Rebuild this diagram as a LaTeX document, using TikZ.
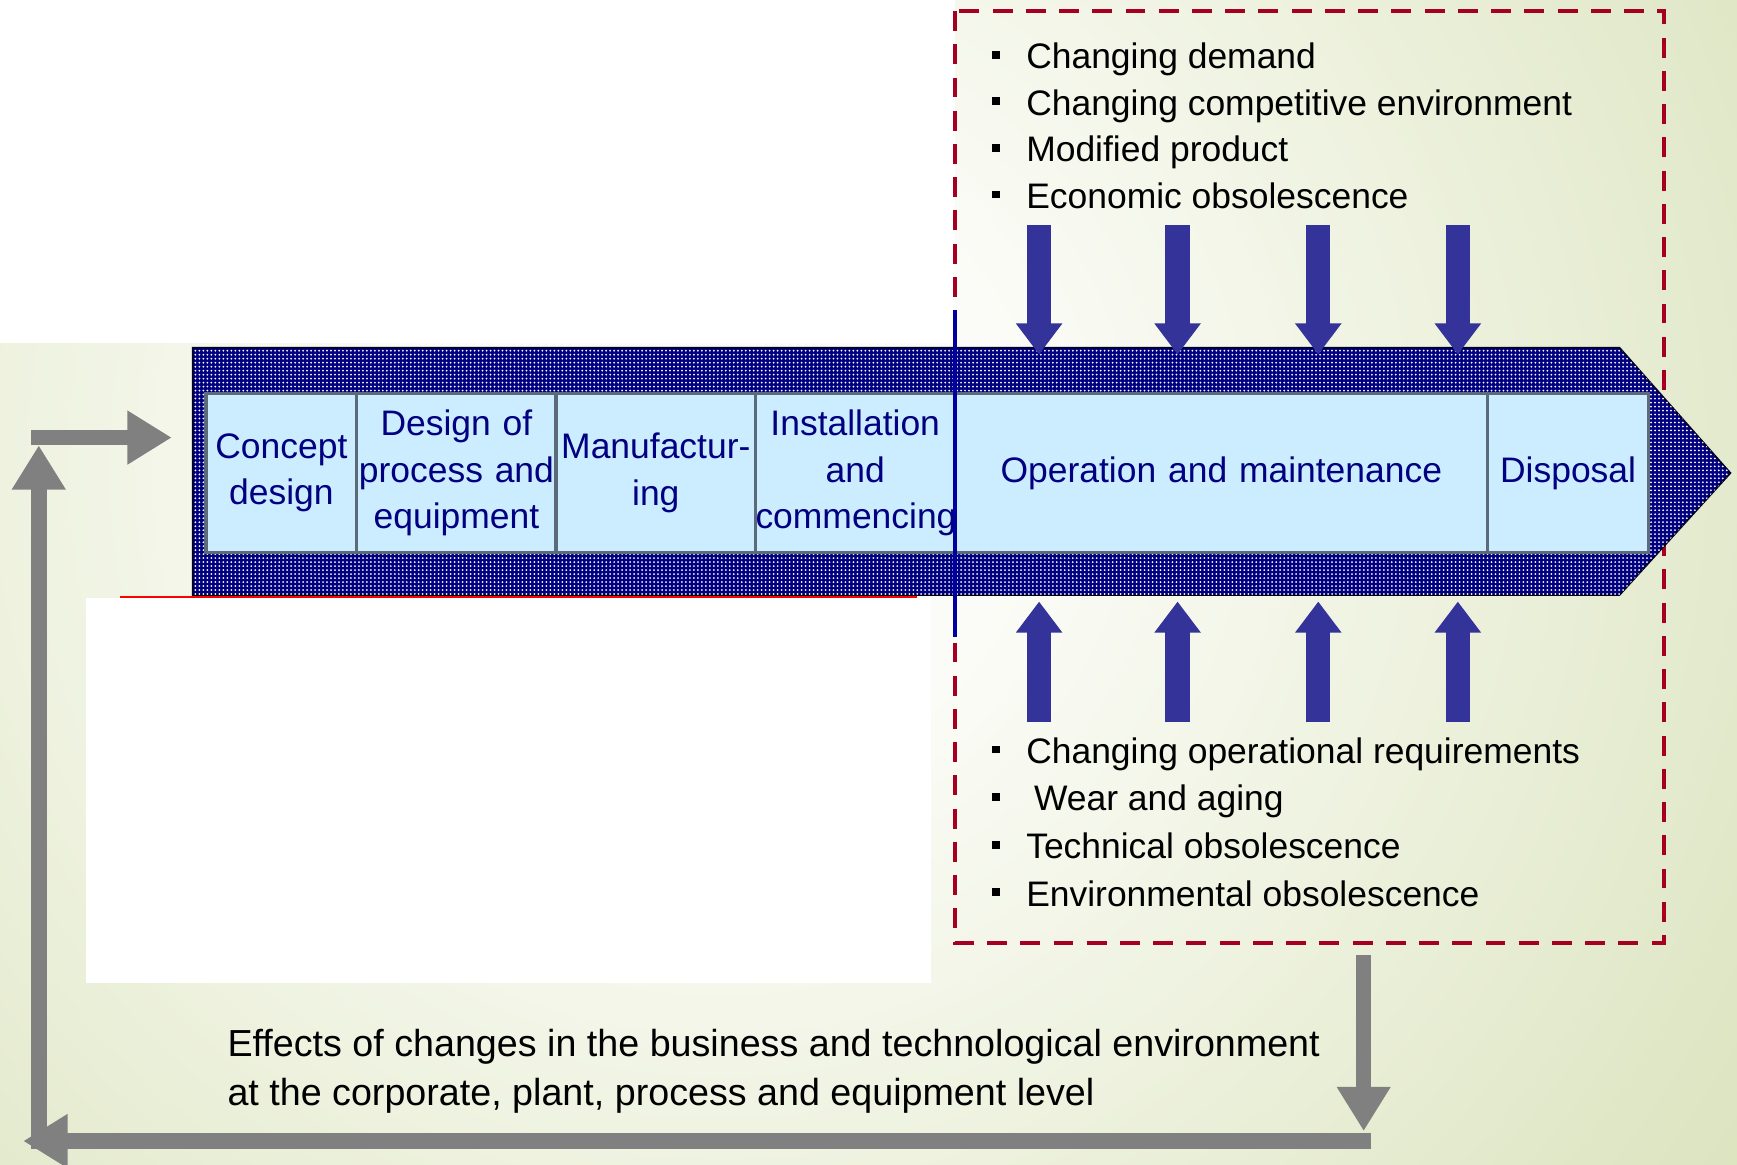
\documentclass[tikz,border=0pt]{standalone}
\usepackage{fontspec}
\setmainfont{Liberation Sans}
\usetikzlibrary{arrows.meta,patterns.meta,positioning}

\definecolor{bandnavy}{HTML}{000080}
\definecolor{stagefill}{HTML}{CCECFF}
\definecolor{stageline}{HTML}{5C6B7A}
\definecolor{stagetext}{HTML}{000080}
\definecolor{arrowblue}{HTML}{333399}
\definecolor{framered}{HTML}{A50021}
\definecolor{loopgray}{HTML}{808080}
\definecolor{splitblue}{HTML}{0000A0}
\definecolor{bgin}{HTML}{FBFCF7}
\definecolor{bgmid}{HTML}{EEF2DF}
\definecolor{bgout}{HTML}{DCE4C0}

\pgfdeclareradialshading{bgglow}{\pgfpoint{0bp}{0bp}}{color(0bp)=(bgin); color(6bp)=(bgin); color(14bp)=(bgmid); color(24bp)=(bgout); color(50bp)=(bgout)}

\newcommand{\sqbullet}{\makebox[15.5pt][l]{\rule[4.5pt]{3.5pt}{3.5pt}}}

\begin{document}
\begin{tikzpicture}[x=0.5pt,y=-0.5pt,
	stage/.style={draw=stageline,line width=1.5pt,fill=stagefill,text=stagetext,
		font=\fontsize{16}{21}\selectfont,align=center,text width=#1,
		minimum height=72pt,inner xsep=0pt,outer sep=0pt},
	causes/.style={anchor=base west,inner sep=0pt,align=left},
	pusharrow/.style={arrowblue,line width=11pt,-{Triangle[width=20pt,length=14pt]}},
	looparrow/.style={loopgray,line width=7pt,-{Triangle[width=23pt,length=20pt]}},
	bandfill/.style={fill=bandnavy,postaction={pattern={Dots[distance=1.8pt,radius=0.45pt]},pattern color=white}}]

	\useasboundingbox (0,0) rectangle (1568,1051);
	\begin{scope}
		\clip (0,0) rectangle (1568,1051);
		\fill[bgout] (0,0) rectangle (1568,1051);
		\shade[shading=bgglow] (650,420) circle (1150);
	\end{scope}
	\fill[white] (0,0) rectangle (862,310);
	\fill[white] (78,540) rectangle (840,887);

	% area of change
	\draw[framered,line width=2pt,dash pattern=on 9pt off 6pt] (862,10) rectangle (1502,851);

	% life cycle band
	\draw[black!70!bandnavy,line width=0.8pt,bandfill] (174,314) -- (1462,314) -- (1562,427) -- (1462,537) -- (174,537) -- cycle;
	\draw[red,line width=1pt] (108,539) -- (828,539);

	\node[stage=68pt] (concept) at (254,427) {Concept\\design};
	\node[stage=90pt,right=0pt of concept] (designproc) {Design of\\process and\\equipment};
	\node[stage=90pt,right=0pt of designproc] (manuf) {Manufactur-\\ing};
	\node[stage=90pt,right=0pt of manuf] (install) {Installation\\and\\commencing};
	\node[stage=240.5pt,right=0pt of install] (operation) {Operation and maintenance};
	\node[stage=72.5pt,right=0pt of operation] (disposal) {Disposal};

	\coordinate (splittop) at (862,280);
	\coordinate (splitbot) at (862,575);
	\draw[splitblue,line width=1.5pt] (splittop) -- (splitbot);

	% pressures on operation
	\foreach \x [count=\i] in {938,1063,1190,1316}{
		\coordinate (push\i) at (\x,203);
		\coordinate (hit\i) at (\x,320);
		\coordinate (rise\i) at (\x,652);
		\coordinate (lift\i) at (\x,543);
		\draw[pusharrow] (push\i) -- (hit\i);
		\draw[pusharrow] (rise\i) -- (lift\i);
	}

	\node[causes,font=\fontsize{16}{21}\selectfont] (marketcauses) at (895,188)
		{\sqbullet Changing demand\\
		 \sqbullet Changing competitive environment\\
		 \sqbullet Modified product\\
		 \sqbullet Economic obsolescence};
	\node[causes,font=\fontsize{16}{21.5}\selectfont] (techcauses) at (895,818)
		{\sqbullet Changing operational requirements\\
		 \sqbullet\hspace{3.5pt}Wear and aging\\
		 \sqbullet Technical obsolescence\\
		 \sqbullet Environmental obsolescence};

	% feedback loop
	\coordinate (fb1) at (1231,862);
	\coordinate (fb2) at (1231,1021);
	\coordinate (fb3) at (1238,1030);
	\coordinate (fb4) at (21,1030);
	\coordinate (fb5) at (35,1037);
	\coordinate (fb6) at (35,402);
	\coordinate (fb7) at (28,395);
	\coordinate (fb8) at (155,395);
	\draw[looparrow] (fb1) -- (fb2);
	\draw[looparrow] (fb3) -- (fb4);
	\draw[looparrow] (fb5) -- (fb6);
	\draw[looparrow] (fb7) -- (fb8);

	\node[causes,font=\fontsize{17}{22}\selectfont] (effects) at (205,998)
		{Effects of changes in the business and technological environment\\
		 at the corporate, plant, process and equipment level};
\end{tikzpicture}
\end{document}
